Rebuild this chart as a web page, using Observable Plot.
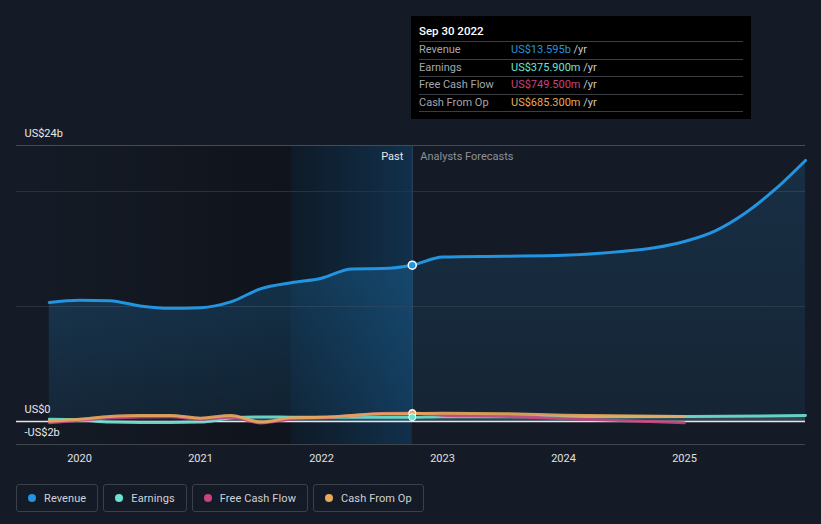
<!DOCTYPE html>
<html>
<head>
<meta charset="utf-8">
<script src="https://cdn.jsdelivr.net/npm/d3@7"></script>
<script src="https://cdn.jsdelivr.net/npm/@observablehq/plot@0.6"></script>
<style>
  html, body { margin: 0; padding: 0; background: #151b26; }
  body { width: 821px; height: 524px; overflow: hidden; font-family: Roboto, "Noto Sans", sans-serif; }
  #wrap { position: relative; width: 821px; height: 524px; }
  #chart svg { display: block; }
  #tip { position: absolute; left: 411px; top: 16px; width: 340px; height: 103px; background: #000; color: #fff; font-size: 11px; }
  #tip .title { position: absolute; left: 8px; top: 8px; font-size: 11.5px; font-weight: 500; color: #fff; }
  #tip .row { position: absolute; left: 8px; width: 324px; height: 17px; border-top: 1px solid #3a3d42; }
  #tip .row .lab { position: absolute; left: 0; top: 1px; color: #a3a7ad; }
  #tip .row .val { position: absolute; left: 92px; top: 1px; }
  #tip .row .yr { color: #c9cbce; }
  #tip .last { position: absolute; left: 8px; width: 324px; top: 95px; border-top: 1px solid #3a3d42; }
  #legend { position: absolute; left: 16px; top: 484px; display: flex; gap: 5px; }
  .lg { box-sizing: border-box; height: 28px; border: 1px solid #3b4048; border-radius: 3px; display: flex; align-items: center; padding: 0 11px 0 11px; color: #cfd2d6; font-size: 11px; letter-spacing: 0.1px; }
  .lg .dot { width: 8px; height: 8px; border-radius: 50%; margin-right: 8px; }
</style>
</head>
<body>
<div id="wrap">
  <div id="chart"></div>
  <div id="tip"></div>
  <div id="legend"></div>
</div>
<script>
// ---- data ----
const pastX = [2019.75, 2020, 2020.25, 2020.5, 2020.75, 2021, 2021.25, 2021.5, 2021.75, 2022, 2022.25, 2022.5, 2022.75];
const revenuePast = [10.35, 10.55, 10.5, 10.05, 9.85, 9.9, 10.4, 11.55, 12.06, 12.46, 13.27, 13.3, 13.595];
const earningsPast = [0.2, 0.15, -0.05, -0.08, -0.08, -0.05, 0.3, 0.4, 0.38, 0.37, 0.37, 0.37, 0.376];
const fcfPast = [-0.1, 0.1, 0.3, 0.4, 0.42, 0.2, 0.38, -0.12, 0.22, 0.32, 0.52, 0.7, 0.7495];
const cfoPast = [0.03, 0.2, 0.43, 0.52, 0.52, 0.29, 0.52, -0.05, 0.32, 0.37, 0.52, 0.67, 0.6853];

const revForecastX = [2022.75, 2023, 2023.5, 2024, 2024.5, 2024.75, 2025, 2025.25, 2025.5, 2025.75, 2026];
const revenueForecast = [13.595, 14.3, 14.37, 14.45, 14.8, 15.1, 15.65, 16.55, 18.1, 20.2, 22.7];
const earnForecastX = [2022.75, 2023, 2024, 2025, 2026];
const earningsForecast = [0.376, 0.42, 0.4, 0.43, 0.52];
const cashForecastX = [2022.75, 2023, 2023.5, 2024, 2025];
const fcfForecast = [0.7495, 0.55, 0.45, 0.25, -0.1];
const cfoForecast = [0.6853, 0.72, 0.68, 0.55, 0.43];

const xTicks = [2020, 2021, 2022, 2023, 2024, 2025];
const yLabels = [{v: 24, t: "US$24b"}, {v: 0, t: "US$0"}, {v: -2, t: "-US$2b"}];
const gridValues = [10, 20];
const xDomain = [2019.479, 2026];
const yDomain = [-2, 24];
const pastStart = 2021.75;
const pastEnd = 2022.75;

const colors = {Revenue: "#2394df", Earnings: "#6be3d0", "Free Cash Flow": "#c8437f", "Cash From Op": "#e8a95b"};
const tipRows = [
  {lab: "Revenue", val: "US$13.595b"},
  {lab: "Earnings", val: "US$375.900m"},
  {lab: "Free Cash Flow", val: "US$749.500m"},
  {lab: "Cash From Op", val: "US$685.300m"}
];
const tipTitle = "Sep 30 2022";

// ---- build tables ----
const mk = (xs, ys) => xs.map((x, i) => ({x, y: ys[i]}));
const revP = mk(pastX, revenuePast), revF = mk(revForecastX, revenueForecast);
const earnAll = mk(pastX, earningsPast).concat(mk(earnForecastX, earningsForecast).slice(1));
const fcfAll = mk(pastX, fcfPast).concat(mk(cashForecastX, fcfForecast).slice(1));
const cfoAll = mk(pastX, cfoPast).concat(mk(cashForecastX, cfoForecast).slice(1));
const hover = [
  {x: pastEnd, y: fcfPast[fcfPast.length - 1], c: colors["Free Cash Flow"]},
  {x: pastEnd, y: cfoPast[cfoPast.length - 1], c: colors["Cash From Op"]},
  {x: pastEnd, y: earningsPast[earningsPast.length - 1], c: colors.Earnings}
];

const defs = () => {
  const d = d3.create("svg:defs");
  const g1 = d.append("linearGradient").attr("id", "darkGrad").attr("x1", 0).attr("x2", 1).attr("y1", 0).attr("y2", 0);
  g1.append("stop").attr("offset", 0).attr("stop-color", "#000").attr("stop-opacity", 0.0);
  g1.append("stop").attr("offset", 1).attr("stop-color", "#000").attr("stop-opacity", 0.28);
  const g2 = d.append("linearGradient").attr("id", "hiGrad").attr("x1", 0).attr("x2", 1).attr("y1", 0).attr("y2", 0);
  g2.append("stop").attr("offset", 0).attr("stop-color", "#0e1a27").attr("stop-opacity", 1);
  g2.append("stop").attr("offset", 1).attr("stop-color", "#11304b").attr("stop-opacity", 1);
  const g3 = d.append("linearGradient").attr("id", "revPast").attr("x1", 0).attr("x2", 0).attr("y1", 0).attr("y2", 1);
  g3.append("stop").attr("offset", 0).attr("stop-color", "#2394df").attr("stop-opacity", 0.24);
  g3.append("stop").attr("offset", 1).attr("stop-color", "#2394df").attr("stop-opacity", 0.1);
  const g4 = d.append("linearGradient").attr("id", "revFc").attr("x1", 0).attr("x2", 0).attr("y1", 0).attr("y2", 1);
  g4.append("stop").attr("offset", 0).attr("stop-color", "#2394df").attr("stop-opacity", 0.16);
  g4.append("stop").attr("offset", 1).attr("stop-color", "#2394df").attr("stop-opacity", 0.08);
  return d.node();
};

const chart = Plot.plot({
  width: 821,
  height: 470,
  marginLeft: 16,
  marginRight: 16,
  marginTop: 145,
  marginBottom: 26,
  style: {background: "transparent", fontFamily: "Roboto, sans-serif", overflow: "visible"},
  x: {domain: xDomain, axis: null},
  y: {domain: yDomain, axis: null},
  marks: [
    defs,
    Plot.rect([{x1: xDomain[0], x2: pastStart}], {x1: "x1", x2: "x2", y1: yDomain[0], y2: yDomain[1], fill: "url(#darkGrad)"}),
    Plot.rect([{x1: pastStart, x2: pastEnd}], {x1: "x1", x2: "x2", y1: yDomain[0], y2: yDomain[1], fill: "url(#hiGrad)"}),
    Plot.ruleY(gridValues, {stroke: "#2a313c", strokeWidth: 1}),
    Plot.ruleY([yDomain[1]], {stroke: "#464b53", strokeWidth: 1}),
    Plot.ruleY([yDomain[0]], {stroke: "#41464e", strokeWidth: 1}),
    Plot.ruleX([pastEnd], {y1: yDomain[0], y2: yDomain[1], insetTop: -26, stroke: "#2c4a63", strokeWidth: 1}),
    Plot.areaY(revP, {x: "x", y: "y", curve: "monotone-x", fill: "url(#revPast)"}),
    Plot.areaY(revF, {x: "x", y: "y", curve: "monotone-x", fill: "url(#revFc)"}),
    Plot.areaY(earnAll, {x: "x", y: "y", curve: "monotone-x", fill: "#8fa3b5", fillOpacity: 0.25}),
    Plot.ruleY([0], {stroke: "#e6e6e6", strokeWidth: 1.3}),
    Plot.lineY(revP.concat(revF.slice(1)), {x: "x", y: "y", curve: "monotone-x", stroke: colors.Revenue, strokeWidth: 3}),
    Plot.lineY(earnAll, {x: "x", y: "y", curve: "monotone-x", stroke: colors.Earnings, strokeWidth: 3, strokeOpacity: 0.9}),
    Plot.lineY(fcfAll, {x: "x", y: "y", curve: "monotone-x", stroke: colors["Free Cash Flow"], strokeWidth: 3, strokeOpacity: 0.9}),
    Plot.lineY(cfoAll, {x: "x", y: "y", curve: "monotone-x", stroke: colors["Cash From Op"], strokeWidth: 3, strokeOpacity: 0.9}),
    Plot.dot(hover, {x: "x", y: "y", r: 3.5, fill: "c", stroke: "#fff", strokeWidth: 1}),
    Plot.dot([{x: pastEnd, y: revenuePast[revenuePast.length - 1]}], {x: "x", y: "y", r: 4, fill: colors.Revenue, stroke: "#fff", strokeWidth: 1.5}),
    Plot.text(yLabels, {y: "v", text: "t", frameAnchor: "left", dx: 8, dy: -12, textAnchor: "start", fill: "#e8e8e8", fontSize: 11}),
    Plot.text(xTicks, {x: d => d, y: yDomain[0], text: d => String(d), dy: 14, fill: "#e0e0e0", fontSize: 11}),
    Plot.text(["Past"], {x: pastEnd, y: yDomain[1], text: d => d, dx: -9, dy: 11, textAnchor: "end", fill: "#e8e8e8", fontSize: 11}),
    Plot.text(["Analysts Forecasts"], {x: pastEnd, y: yDomain[1], text: d => d, dx: 8, dy: 11, textAnchor: "start", fill: "#8d9198", fontSize: 11})
  ]
});
document.getElementById("chart").appendChild(chart);

// ---- tooltip ----
const tip = document.getElementById("tip");
const t = document.createElement("div"); t.className = "title"; t.textContent = tipTitle; tip.appendChild(t);
tipRows.forEach((r, i) => {
  const row = document.createElement("div"); row.className = "row"; row.style.top = (25 + i * 17.5) + "px";
  const lab = document.createElement("span"); lab.className = "lab"; lab.textContent = r.lab;
  const val = document.createElement("span"); val.className = "val";
  const v = document.createElement("span"); v.textContent = r.val; v.style.color = colors[r.lab];
  const yr = document.createElement("span"); yr.className = "yr"; yr.textContent = " /yr";
  val.appendChild(v); val.appendChild(yr);
  row.appendChild(lab); row.appendChild(val); tip.appendChild(row);
});
const last = document.createElement("div"); last.className = "last"; tip.appendChild(last);

// ---- legend ----
const legend = document.getElementById("legend");
Object.keys(colors).forEach(k => {
  const b = document.createElement("div"); b.className = "lg";
  const d = document.createElement("span"); d.className = "dot"; d.style.background = colors[k];
  const s = document.createElement("span"); s.textContent = k;
  b.appendChild(d); b.appendChild(s); legend.appendChild(b);
});
</script>
</body>
</html>
